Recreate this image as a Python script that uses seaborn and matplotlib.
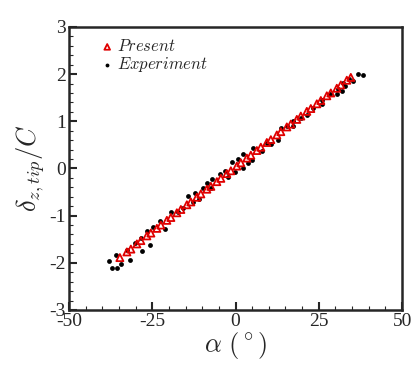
import pandas as pd
import matplotlib
matplotlib.use("Agg")
import matplotlib.pyplot as plt
import seaborn as sns
from matplotlib.ticker import MultipleLocator

# Present (simulation) results
present_alpha = [-34.7, -32.6, -31.4, -29.6, -28.4, -26.6, -25.4, -23.6, -22.4,
                 -20.6, -19.4, -17.6, -16.4, -14.6, -13.4, -11.6, -10.4, -8.6,
                 -7.4, -5.6, -4.4, -2.6, -1.4, 0.4, 1.6, 3.4, 4.6, 6.4, 7.6,
                 9.4, 10.6, 12.4, 13.6, 15.4, 16.6, 18.4, 19.6, 21.4, 22.6,
                 24.4, 25.6, 27.4, 28.6, 30.4, 31.6, 33.4, 34.6]
present_delta = [-1.89, -1.77, -1.71, -1.60, -1.53, -1.43, -1.37, -1.27, -1.20,
                 -1.10, -1.04, -0.94, -0.87, -0.77, -0.71, -0.61, -0.54, -0.44,
                 -0.38, -0.28, -0.21, -0.11, -0.05, 0.05, 0.12, 0.22, 0.28, 0.38,
                 0.45, 0.55, 0.61, 0.71, 0.78, 0.88, 0.94, 1.04, 1.11, 1.21, 1.27,
                 1.37, 1.44, 1.54, 1.60, 1.70, 1.77, 1.87, 1.93]

# Experimental data
exp_alpha = [-38.0, -37.0, -35.5, -35.8, -34.3, -32.6, -31.7, -30.2, -28.4, -28.1,
             -26.6, -25.7, -24.8, -22.7, -21.2, -19.4, -17.3, -15.8, -14.3, -12.8,
             -12.2, -11.0, -9.8, -8.6, -7.4, -7.1, -4.7, -3.2, -2.3, -1.1, -0.2,
             0.8, 2.2, 2.2, 3.8, 4.9, 5.3, 7.9, 9.5, 10.7, 12.8, 13.6, 15.5, 17.3,
             17.3, 19.7, 21.5, 23.3, 26.0, 26.0, 28.4, 30.5, 30.8, 32.0, 32.3,
             32.9, 34.1, 35.3, 36.8, 38.3]
exp_delta = [-1.97, -2.12, -2.12, -1.84, -2.03, -1.72, -1.95, -1.57, -1.47, -1.76,
             -1.33, -1.63, -1.25, -1.12, -1.29, -0.93, -0.93, -0.83, -0.59, -0.72,
             -0.51, -0.64, -0.42, -0.30, -0.42, -0.23, -0.11, -0.06, -0.19, 0.13,
             -0.08, 0.21, 0.02, 0.30, 0.11, 0.17, 0.44, 0.36, 0.55, 0.51, 0.61,
             0.85, 0.89, 0.89, 1.00, 1.06, 1.14, 1.29, 1.36, 1.46, 1.57, 1.57,
             1.69, 1.65, 1.82, 1.74, 1.90, 1.86, 2.01, 1.99]

present = pd.DataFrame({"alpha": present_alpha, "delta": present_delta})
exp = pd.DataFrame({"alpha": exp_alpha, "delta": exp_delta})

sns.set_style("ticks")
plt.rcParams["font.family"] = ["Liberation Serif", "DejaVu Serif"]
plt.rcParams["mathtext.fontset"] = "cm"
plt.rcParams["axes.unicode_minus"] = False

fig = plt.figure(figsize=(4.15, 3.69), dpi=100)
ax = fig.add_axes([0.166, 0.160, 0.803, 0.767])

sns.scatterplot(data=present, x="alpha", y="delta", ax=ax, marker="^",
                s=26, facecolor="none", edgecolor="#e00000", linewidth=1.3,
                label=r"$Present$", zorder=3)
sns.scatterplot(data=exp, x="alpha", y="delta", ax=ax, marker="o",
                s=12, color="black", linewidth=0,
                label=r"$Experiment$", zorder=2)

ax.set_xlim(-50, 50)
ax.set_ylim(-3, 3)
ax.xaxis.set_major_locator(MultipleLocator(25))
ax.xaxis.set_minor_locator(MultipleLocator(5))
ax.yaxis.set_major_locator(MultipleLocator(1))
ax.yaxis.set_minor_locator(MultipleLocator(0.2))
ax.tick_params(which="both", direction="in", top=False, right=False,
               labelsize=14, pad=2)
ax.tick_params(which="major", length=6, width=1.5)
ax.tick_params(which="minor", length=3, width=0.8)
for sp in ax.spines.values():
    sp.set_linewidth(1.8)

ax.set_xlabel(r"$\alpha\ (^\circ)$", fontsize=19, labelpad=0)
ax.set_ylabel(r"$\delta_{z,tip}/C$", fontsize=19, labelpad=2)

ax.legend(loc="upper left", bbox_to_anchor=(0.07, 0.98), frameon=False,
          fontsize=12, handletextpad=0.1, labelspacing=0.0,
          borderaxespad=0, handlelength=1.0, markerscale=0.8)

fig.savefig("out.png", dpi=100)
